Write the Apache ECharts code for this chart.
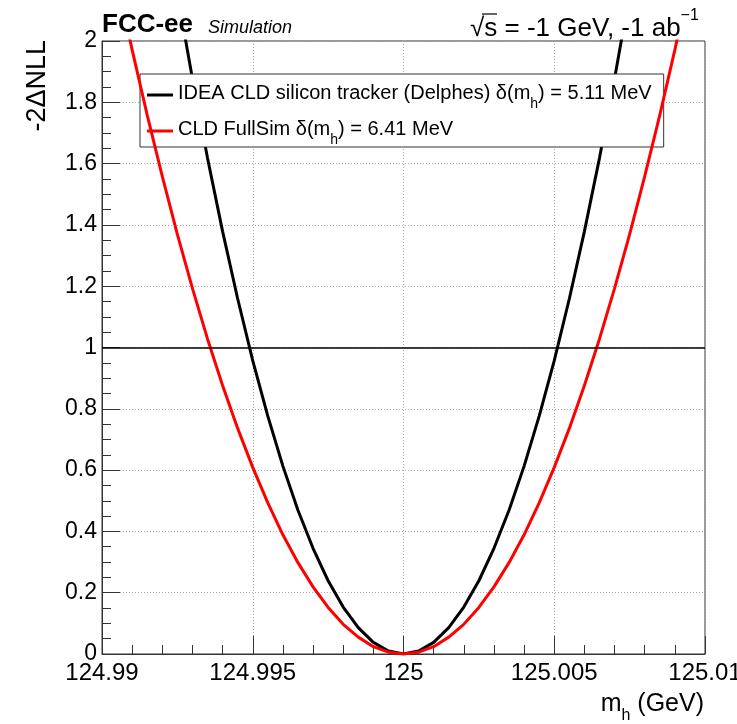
<!DOCTYPE html>
<html>
<head>
<meta charset="utf-8">
<script src="https://cdn.jsdelivr.net/npm/echarts@6/dist/echarts.min.js"></script>
<style>
  html, body { margin: 0; padding: 0; background: #fff; }
  #chart { width: 737px; height: 724px; }
</style>
</head>
<body>
<div id="chart"></div>
<script>
// Higgs mass scan points (GeV)
const massPoints = [
  124.9900, 124.9905, 124.9910, 124.9915, 124.9920, 124.9925, 124.9930, 124.9935,
  124.9940, 124.9945, 124.9950, 124.9955, 124.9960, 124.9965, 124.9970, 124.9975,
  124.9980, 124.9985, 124.9990, 124.9995, 125.0000, 125.0005, 125.0010, 125.0015,
  125.0020, 125.0025, 125.0030, 125.0035, 125.0040, 125.0045, 125.0050, 125.0055,
  125.0060, 125.0065, 125.0070, 125.0075, 125.0080, 125.0085, 125.0090, 125.0095,
  125.0100
];

// -2 delta NLL, IDEA CLD silicon tracker (Delphes)
const nllDelphes = [
  3.830, 3.456, 3.102, 2.767, 2.451, 2.154, 1.877, 1.618, 1.379, 1.159,
  0.957, 0.776, 0.613, 0.469, 0.345, 0.239, 0.153, 0.086, 0.038, 0.010,
  0.000,
  0.010, 0.038, 0.086, 0.153, 0.239, 0.345, 0.469, 0.613, 0.776, 0.957,
  1.159, 1.379, 1.618, 1.877, 2.154, 2.451, 2.767, 3.102, 3.456, 3.830
];

// -2 delta NLL, CLD FullSim
const nllFullSim = [
  2.434, 2.197, 1.971, 1.758, 1.558, 1.369, 1.193, 1.028, 0.876, 0.736,
  0.609, 0.493, 0.389, 0.298, 0.219, 0.152, 0.097, 0.055, 0.024, 0.006,
  0.000,
  0.006, 0.024, 0.055, 0.097, 0.152, 0.219, 0.298, 0.389, 0.493, 0.609,
  0.736, 0.876, 1.028, 1.193, 1.369, 1.558, 1.758, 1.971, 2.197, 2.434
];

const xTickLabels = ['124.99', '124.995', '125', '125.005', '125.01'];
const yTickLabels = ['0', '0.2', '0.4', '0.6', '0.8', '1', '1.2', '1.4', '1.6', '1.8', '2'];

const seriesNames = [
  'IDEA CLD silicon tracker (Delphes)',
  'CLD FullSim'
];
const legendText = {
  'IDEA CLD silicon tracker (Delphes)': '{t|IDEA CLD silicon tracker (Delphes) δ(m}{s|h}{t|) = 5.11 MeV}',
  'CLD FullSim': '{t|CLD FullSim δ(m}{s|h}{t|) = 6.41 MeV}'
};

const FONT = "'Liberation Sans', Arial, Helvetica, sans-serif";
const AXIS_COLOR = '#333';

function pairs(ys) {
  return massPoints.map((x, i) => [x, ys[i]]);
}

const chart = echarts.init(document.getElementById('chart'), null, { renderer: 'canvas' });

chart.setOption({
  backgroundColor: '#fff',
  animation: false,
  grid: {
    left: 102, right: 32, top: 41, bottom: 70,
    outerBoundsMode: 'none',
    containLabel: false,
    show: true, borderColor: AXIS_COLOR, borderWidth: 1, backgroundColor: 'transparent'
  },
  xAxis: {
    type: 'value',
    min: 124.99, max: 125.01, interval: 0.005,
    axisLine: { show: true, onZero: false, lineStyle: { color: AXIS_COLOR, width: 1 } },
    axisTick: { show: true, inside: true, length: 18, lineStyle: { color: AXIS_COLOR } },
    minorTick: { show: true, splitNumber: 5, length: 9, lineStyle: { color: AXIS_COLOR } },
    splitLine: { show: true, lineStyle: { color: '#aaa', type: [1, 2], width: 1 } },
    axisLabel: {
      color: '#000', fontFamily: FONT, fontSize: 24, margin: 7,
      showMinLabel: true, showMaxLabel: true, hideOverlap: false,
      formatter: (v, i) => xTickLabels[i]
    }
  },
  yAxis: {
    type: 'value',
    min: 0, max: 2, interval: 0.2,
    axisLine: { show: true, onZero: false, lineStyle: { color: AXIS_COLOR, width: 1 } },
    axisTick: { show: true, inside: true, length: 18, lineStyle: { color: AXIS_COLOR } },
    minorTick: { show: true, splitNumber: 4, length: 9, lineStyle: { color: AXIS_COLOR } },
    splitLine: { show: true, lineStyle: { color: '#aaa', type: [1, 2], width: 1 } },
    axisLabel: {
      color: '#000', fontFamily: FONT, fontSize: 23, margin: 5,
      showMinLabel: true, showMaxLabel: true,
      formatter: (v, i) => yTickLabels[i]
    }
  },
  legend: {
    orient: 'vertical',
    left: 140, top: 74,
    padding: [9, 12, 0, 7],
    itemGap: 8,
    icon: 'rect',
    itemWidth: 26, itemHeight: 3,
    borderColor: AXIS_COLOR, borderWidth: 1,
    backgroundColor: '#fff',
    data: seriesNames,
    formatter: name => legendText[name],
    textStyle: {
      color: '#000',
      rich: {
        t: { fontFamily: FONT, fontSize: 20, color: '#000', lineHeight: 24, verticalAlign: 'top' },
        s: { fontFamily: FONT, fontSize: 14, color: '#000', lineHeight: 10, padding: [14, 0, 0, 0], verticalAlign: 'top' }
      }
    }
  },
  series: [
    {
      name: seriesNames[0],
      type: 'line',
      data: pairs(nllDelphes),
      symbol: 'none',
      clip: true,
      lineStyle: { color: '#000', width: 3 },
      itemStyle: { color: '#000' },
      z: 3,
      markLine: {
        silent: true,
        symbol: 'none',
        label: { show: false },
        lineStyle: { color: '#000', width: 1.5, type: 'solid' },
        data: [{ yAxis: 1 }]
      }
    },
    {
      name: seriesNames[1],
      type: 'line',
      data: pairs(nllFullSim),
      symbol: 'none',
      clip: true,
      lineStyle: { color: '#ff0000', width: 3 },
      itemStyle: { color: '#ff0000' },
      z: 4
    }
  ],
  graphic: [
    {
      type: 'text', left: 102, top: 12,
      style: { text: 'FCC-ee', fontFamily: FONT, fontWeight: 'bold', fontSize: 26, fill: '#000' }
    },
    {
      type: 'text', left: 208, top: 19,
      style: { text: 'Simulation', fontFamily: FONT, fontStyle: 'italic', fontSize: 18, fill: '#000' }
    },
    {
      type: 'text', left: 470, top: 8,
      style: {
        text: '{m|√s = -1 GeV, -1 ab}{p|−1}',
        rich: {
          m: { fontFamily: FONT, fontSize: 26, fill: '#000', lineHeight: 34, verticalAlign: 'bottom' },
          p: { fontFamily: FONT, fontSize: 16, fill: '#000', lineHeight: 16, verticalAlign: 'top' }
        }
      }
    },
    {
      type: 'line', z: 10,
      shape: { x1: 482, y1: 14, x2: 497, y2: 14 },
      style: { stroke: '#000', lineWidth: 1.2 }
    },
    {
      type: 'text', right: 33, top: 692,
      style: {
        text: '{m|m}{s|h}{m| (GeV)}',
        rich: {
          m: { fontFamily: FONT, fontSize: 25, fill: '#000', lineHeight: 28, verticalAlign: 'top' },
          s: { fontFamily: FONT, fontSize: 16, fill: '#000', lineHeight: 14, padding: [16, 0, 0, 0], verticalAlign: 'top' }
        }
      }
    },
    {
      type: 'text', x: 38, y: 40, rotation: Math.PI / 2,
      style: {
        text: '-2ΔNLL', fontFamily: FONT, fontSize: 27, fill: '#000',
        align: 'right', verticalAlign: 'middle'
      }
    }
  ]
});
</script>
</body>
</html>
